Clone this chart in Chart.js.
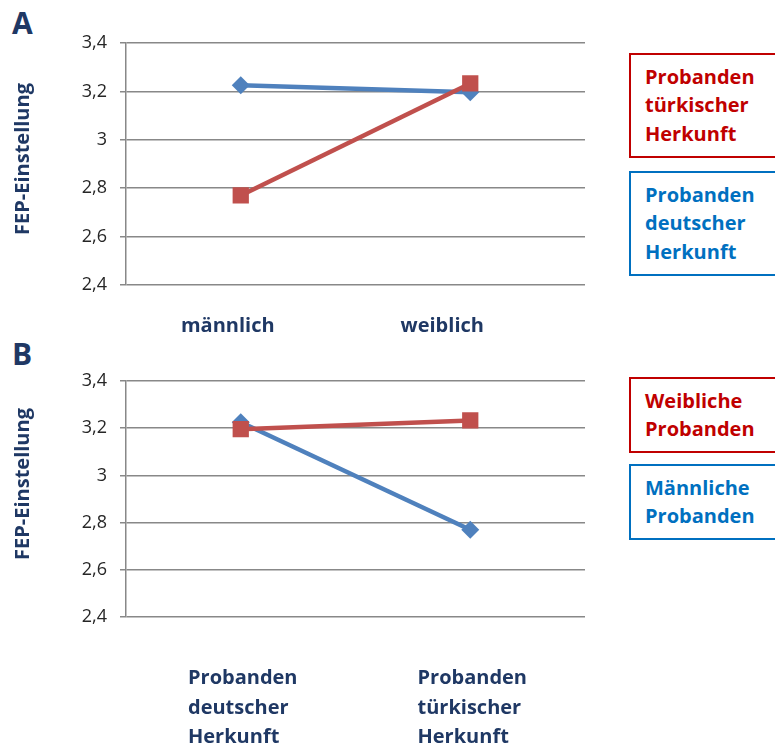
<!DOCTYPE html>
<html lang="de">
<head>
<meta charset="utf-8">
<script src="https://cdn.jsdelivr.net/npm/chart.js@4/dist/chart.umd.min.js"></script>
<style>
  html, body { margin: 0; padding: 0; background: #fff; }
  body { width: 775px; height: 745px; position: relative; overflow: hidden; font-family: "Open Sans", sans-serif; }
  .panel { position: absolute; left: 0; }
  .letter { position: absolute; left: 12px; font: bold 30px "Open Sans", sans-serif; color: #1F3864; line-height: 1; }
  .key { position: absolute; left: 629px; width: 170px; box-sizing: border-box; border: 2px solid; padding: 7.5px 0 7.5px 14px; font: bold 20px "Open Sans", sans-serif; line-height: 28.5px; }
</style>
</head>
<body>
<div class="letter" style="top:8px">A</div>
<div class="letter" style="top:339px">B</div>
<canvas id="chartA" class="panel" style="top:0" width="600" height="345"></canvas>
<canvas id="chartB" class="panel" style="top:330px" width="600" height="415"></canvas>

<script>
// Mean FEP attitude by gender and origin
const genderCategories = [['männlich'], ['weiblich']];
const originCategories = [['Probanden', 'deutscher', 'Herkunft'], ['Probanden', 'türkischer', 'Herkunft']];

const turkishByGender = [2.77, 3.233];
const germanByGender = [3.225, 3.196];
const femaleByOrigin = [3.196, 3.233];
const maleByOrigin = [3.225, 2.77];

const turkishLabel = ['Probanden', 'türkischer', 'Herkunft'];
const germanLabel = ['Probanden', 'deutscher', 'Herkunft'];
const femaleLabel = ['Weibliche', 'Probanden'];
const maleLabel = ['Männliche', 'Probanden'];

const yTickValues = [2.4, 2.6, 2.8, 3.0, 3.2, 3.4];
const yTickLabels = ['2,4', '2,6', '2,8', '3', '3,2', '3,4'];
const yTitle = 'FEP-Einstellung';

const RED = '#C0504D', BLUE = '#4F81BD';
const RED_TEXT = '#C00000', BLUE_TEXT = '#0070C0';
const NAVY = '#1F3864';
const GRID = '#888888';
const FONT = '"Open Sans", sans-serif';

// Category labels as left-aligned text blocks under each category,
// plus the rotated y-axis title
const panelText = {
  id: 'panelText',
  afterDraw(chart, args, opts) {
    const x = chart.scales.x;
    const area = chart.chartArea;
    const ctx = chart.ctx;
    ctx.save();
    ctx.fillStyle = NAVY;
    ctx.font = `bold ${opts.size}px ${FONT}`;
    ctx.textAlign = 'left';
    ctx.textBaseline = 'alphabetic';
    chart.data.labels.forEach((lines, i) => {
      const w = Math.max(...lines.map(l => ctx.measureText(l).width));
      const left = x.getPixelForValue(i) - w / 2 + opts.shift[i];
      lines.forEach((l, k) => ctx.fillText(l, left, x.top + opts.baseline + k * opts.lineHeight));
    });
    ctx.font = `bold ${opts.titleSize}px ${FONT}`;
    ctx.textAlign = 'center';
    ctx.textBaseline = 'middle';
    ctx.translate(opts.titleX, (area.top + area.bottom) / 2 + opts.titleShift);
    ctx.rotate(-Math.PI / 2);
    ctx.fillText(yTitle, 0, 0);
    ctx.restore();
  }
};

function lineDataset(label, data, color, style, radius) {
  return {
    label, data,
    borderColor: color, backgroundColor: color,
    borderWidth: 4.5,
    pointStyle: style, pointRadius: radius, pointHoverRadius: radius,
    pointBorderWidth: 0,
    tension: 0
  };
}

function makeChart(id, labels, datasets, padTop, xHeight, textOpts) {
  return new Chart(document.getElementById(id), {
    type: 'line',
    data: { labels, datasets },
    options: {
      responsive: false,
      animation: false,
      layout: { padding: { top: padTop, right: 15, left: 0, bottom: 0 } },
      plugins: {
        legend: { display: false },
        tooltip: { enabled: false },
        panelText: textOpts
      },
      scales: {
        x: {
          offset: true,
          grid: { display: false },
          border: { display: false },
          ticks: { display: false },
          afterFit(s) { s.height = xHeight; }
        },
        y: {
          min: 2.4, max: 3.4,
          afterFit(s) { s.width = 126; },
          afterBuildTicks(s) { s.ticks = yTickValues.map(v => ({ value: v })); },
          ticks: {
            padding: 13,
            color: '#262626',
            font: { family: FONT, size: 18 },
            callback: (v) => yTickLabels[yTickValues.findIndex(t => Math.abs(t - v) < 1e-6)]
          },
          grid: { color: GRID, lineWidth: 1.5, tickLength: 6 },
          border: { display: true, color: GRID, width: 1.5 }
        }
      }
    },
    plugins: [panelText]
  });
}

// Red series first so it is painted on top of the blue one
const dsA = [
  lineDataset(turkishLabel, turkishByGender, RED, 'rect', 11.5),
  lineDataset(germanLabel, germanByGender, BLUE, 'rectRot', 9)
];
const dsB = [
  lineDataset(femaleLabel, femaleByOrigin, RED, 'rect', 11.5),
  lineDataset(maleLabel, maleByOrigin, BLUE, 'rectRot', 9)
];

makeChart('chartA', genderCategories, dsA, 43, 60,
  { size: 20, baseline: 47, lineHeight: 29.5, shift: [-13, -28], titleSize: 20, titleX: 23, titleShift: -5 });
makeChart('chartB', originCategories, dsB, 51, 128,
  { size: 20, baseline: 67, lineHeight: 29.5, shift: [2, 2], titleSize: 20, titleX: 23, titleShift: -15 });

// Series keys, built from the dataset labels
function addKeys(datasets, firstTop, gap) {
  let top = firstTop;
  datasets.forEach((ds) => {
    const el = document.createElement('div');
    el.className = 'key';
    const c = ds.borderColor === RED ? RED_TEXT : BLUE_TEXT;
    el.style.color = c;
    el.style.borderColor = c;
    el.style.top = top + 'px';
    el.innerHTML = ds.label.join('<br>');
    document.body.appendChild(el);
    top += el.offsetHeight + gap;
  });
}
addKeys(dsA, 53, 13);
addKeys(dsB, 377, 11);
</script>
</body>
</html>
